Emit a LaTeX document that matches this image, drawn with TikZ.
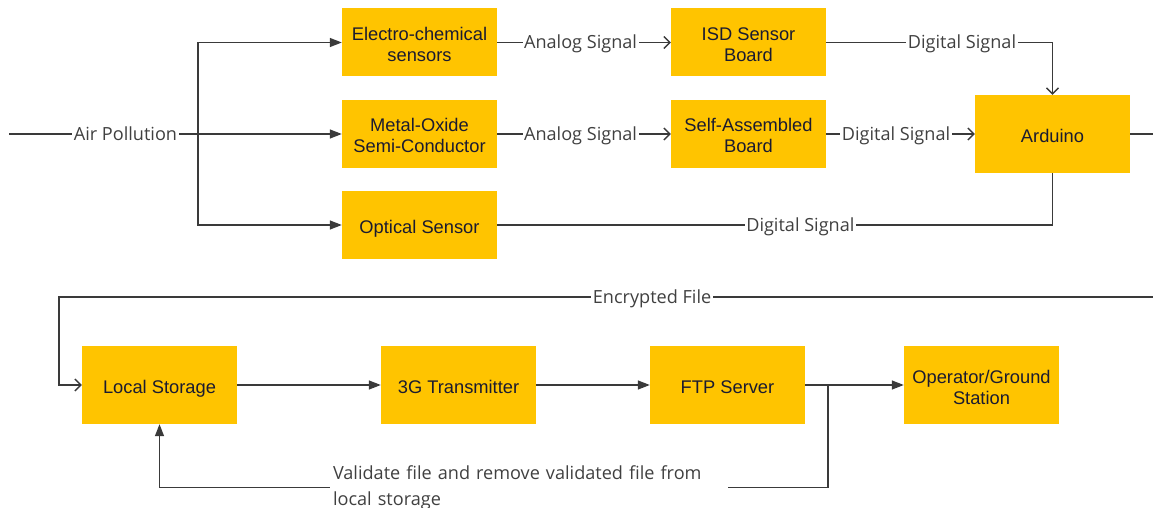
\documentclass[tikz,border=0pt]{standalone}
\usepackage{fontspec}
\setmainfont{Liberation Sans}
\newfontfamily\labelfont{Open Sans}
\usetikzlibrary{arrows.meta}
\definecolor{boxfill}{HTML}{FFC400}
\definecolor{boxtext}{HTML}{1B1B30}
\definecolor{wirecol}{HTML}{3A3A3A}
\definecolor{labtext}{HTML}{404040}
% invisible strut giving the first text line of a block a fixed height
\newcommand{\firstline}{\rule{0pt}{22pt}}

\begin{document}
\begin{tikzpicture}[x=1pt,y=-1pt,
  blk/.style={fill=boxfill, draw=none, text=boxtext, align=center,
    font=\fontsize{18.3}{21}\selectfont, inner sep=0pt,
    minimum width=155pt, minimum height=68pt,
    % fixed first-line height and last-line depth keep the text evenly placed
    execute at begin node={\firstline},
    execute at end node={\rule[-5pt]{0pt}{5pt}}},
  tallblk/.style={blk, minimum height=78pt},
  wire/.style={draw=wirecol, line width=1.4pt},
  fa/.style={wire, -{Triangle[length=12pt,width=9pt]}},
  oa/.style={wire, -{Straight Barb[length=6pt,width=12pt,line width=1.4pt]}},
  lab/.style={fill=white, text=labtext, font=\labelfont\fontsize{18.1}{26}\selectfont,
    inner sep=1.5pt, text height=17.8pt, text depth=5pt},
  vlab/.style={text=labtext, font=\labelfont\fontsize{18.1}{26}\selectfont,
    text width=392pt, align=left, inner xsep=3pt, inner ysep=0pt},
]
\useasboundingbox (0,0) rectangle (1153,508);
\clip (0,0) rectangle (1153,508);

% sensing stage
\node[blk] (ecs) at (419.5,42.5) {\firstline Electro-chemical\\sensors};
\node[blk] (mos) at (419.5,134) {\firstline Metal-Oxide\\Semi-Conductor};
\node[blk] (opt) at (419.5,225) {Optical Sensor};
\node[blk] (isd) at (748.5,42.5) {\firstline ISD Sensor\\Board};
\node[blk] (sab) at (748.5,134) {\firstline Self-Assembled\\Board};
\node[tallblk] (ard) at (1052.5,134) {Arduino};

% storage and transmission stage
\node[tallblk] (lst) at (159.5,385) {Local Storage};
\node[tallblk] (tx)  at (458.5,385) {3G Transmitter};
\node[tallblk] (ftp) at (727.5,385) {FTP Server};
\node[tallblk] (op)  at (981.5,385) {\firstline Operator/Ground\\Station};

% routing points
\coordinate (src) at (9,134);
\coordinate (br)  at (198,134);
\coordinate (ro)  at (1175,134);
\coordinate (rt)  at (1175,297);
\coordinate (lt)  at (59,297);
\coordinate (j)   at (828,385);

% air pollution fan-out
\draw[fa] (src) -- node[lab,pos=0.35] {Air Pollution} (mos);
\draw[fa] (br) |- (ecs);
\draw[fa] (br) |- (opt);

% signals to the Arduino
\draw[oa] (ecs) -- node[lab,pos=0.48] {Analog Signal} (isd);
\draw[oa] (mos) -- node[lab,pos=0.48] {Analog Signal} (sab);
\draw[oa] (isd) -| node[lab,pos=0.3] {Digital Signal} (ard);
\draw[oa] (sab) -- node[lab,pos=0.47] {Digital Signal} (ard);
\draw[wire] (opt) -| node[lab,pos=0.273] {Digital Signal} (ard);

% encrypted file back to storage
\draw[oa] (ard) -- (ro) -- (rt) -- node[lab,pos=0.4686] {Encrypted File} (lt) |- (lst);

% upload chain
\draw[fa] (lst) -- (tx);
\draw[fa] (tx) -- (ftp);
\draw[fa] (ftp) -- (op);

% validation feedback
\node[vlab] (val) at (529,487.5) {Validate file and remove validated file from\\local storage};
\draw[wire] (j) |- (val);
\draw[fa] (val) -| (lst);
\end{tikzpicture}
\end{document}
